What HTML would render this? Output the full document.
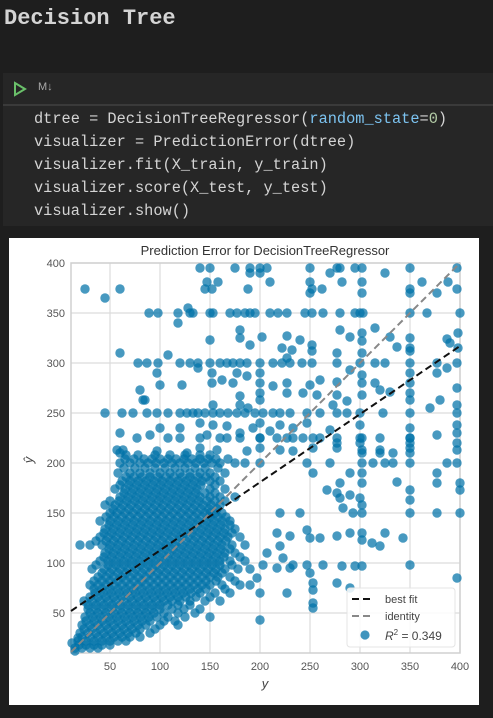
<!DOCTYPE html>
<html><head><meta charset="utf-8">
<style>
html,body{margin:0;padding:0;background:#1e1e1e;width:493px;height:718px;overflow:hidden;position:relative;font-family:"Liberation Sans",sans-serif}
.h{position:absolute;left:4px;top:6px;font:bold 22px "Liberation Mono",monospace;color:#d4d4d4}
.cell{position:absolute;left:3px;top:73px;width:490px;height:153px;background:#262626}
.bar{position:absolute;left:0;top:0;width:490px;height:31px;border-bottom:2px solid #3a3a3a}
.code{position:absolute;left:31px;top:35px;font:15.3px/23px "Liberation Mono",monospace;color:#d4d4d4;white-space:pre}
.chart{position:absolute;left:9px;top:238px;width:470px;height:467px;background:#fff}
</style></head><body>
<div class="h">Decision Tree</div>
<div class="cell">
 <div class="bar">
  <svg style="position:absolute;left:10px;top:8px" width="14" height="16"><polygon points="2,2 12,8 2,14" fill="none" stroke="#6ac06a" stroke-width="2"/></svg>
  <span style="position:absolute;left:35px;top:8px;font-size:11px;color:#aaa">M↓</span>
 </div>
 <div class="code">dtree = DecisionTreeRegressor(<span style="color:#7cc3f0">random_state</span>=<span style="color:#b5cea8">0</span>)
visualizer = PredictionError(dtree)
visualizer.fit(X_train, y_train)
visualizer.score(X_test, y_test)
visualizer.show()</div>
</div>
<div class="chart">
<svg id="sv" width="470" height="467"></svg>
</div>
<script>
const xTicks=[50,100,150,200,250,300,350,400];
const yTicks=[50,100,150,200,250,300,350,400];
const xDomain=[11,400];
const yDomain=[10,400];
const bestFit=[52,317];
const r2Label="0.349";
const outX=[140,150,175,190,200,207,250,277,280,295,302,350,397,190,200,270,325,147,158,210,250,282,302,362,388,25,60,145,152,188,252,262,350,397,45,250,302,350,377,
89,98,118,130,133,150,153,170,177,185,190,195,210,218,227,245,252,263,280,295,300,303,350,367,400,128,118,
180,150,180,190,202,227,240,252,280,290,302,302,315,330,337,350,350,387,398,222,232,252,227,277,302,350,398,60,108,390,
78,87,98,120,130,138,150,160,167,173,180,187,200,213,222,230,242,252,277,300,315,325,350,377,397,
97,100,122,138,152,152,162,173,177,187,200,200,213,227,200,80,85,250,260,277,290,302,302,315,320,350,350,350,377,387,397,
83,180,200,227,243,257,277,287,302,330,350,380,397,153,180,188,273,370,
45,62,73,87,97,108,120,127,133,138,145,153,160,168,177,185,195,203,213,220,230,247,260,277,287,300,323,350,397,
100,120,140,153,167,180,193,200,210,220,233,247,270,300,350,377,397,397,350,302,260,227,200,167,147,90,77,60,
108,120,140,160,180,200,217,233,243,253,277,300,320,350,
57,63,97,127,140,157,187,200,220,233,253,277,302,320,333,350,397,
277,300,350,397,60,302,320,350,
247,270,313,325,333,350,387,397,302,
253,290,302,302,377,377,337,400,280,267,277,290,300,350,350,400,280,
220,240,293,302,350,377,400,283,302,
247,250,260,277,290,302,302,312,325,343,320,217,230,220,
207,223,203,217,230,233,247,263,282,295,302,350,397,277,290,250,253,253,253,253,200,227,200,197,15,12,18];
const outY=[395,395,395,395,395,395,395,395,395,395,395,395,395,390,390,390,390,381,381,381,381,381,381,381,381,374,374,374,374,374,374,374,374,374,365,370,370,370,370,
350,350,350,350,350,350,350,350,350,350,350,350,350,350,350,350,350,350,350,350,350,350,350,350,350,355,340,
333,323,325,318,326,327,323,318,333,326,330,322,335,326,316,325,315,324,330,315,313,312,305,310,310,312,315,310,308,320,
300,300,300,300,300,300,300,300,300,300,300,300,300,300,300,300,300,300,300,300,300,300,300,300,300,
290,278,278,295,290,280,283,280,290,287,290,280,277,280,270,273,263,278,283,281,293,288,280,280,273,290,280,270,290,295,275,
263,267,263,270,270,268,268,262,268,271,263,263,258,258,258,255,258,255,
250,250,250,250,250,250,250,250,250,250,250,250,250,250,250,250,250,250,250,250,250,250,250,250,250,250,250,250,250,
235,235,240,238,237,230,235,240,232,238,235,240,233,238,235,228,238,230,225,225,225,225,225,225,228,228,225,230,
225,225,225,225,225,225,225,225,225,225,225,225,225,225,
213,213,212,210,215,213,212,215,213,212,215,215,213,213,210,215,213,
220,220,220,220,210,210,210,210,
200,200,200,200,200,200,200,200,200,
190,190,190,180,190,180,181,180,180,173,170,168,165,173,163,173,165,
150,150,150,150,150,150,150,155,158,
133,125,125,127,130,123,130,120,130,125,117,130,127,117,
110,105,98,95,95,98,98,98,97,97,97,98,85,80,75,90,80,73,60,55,43,70,70,85,12,20,25];
const blobY=[15,22,30,38,46,54,62,70,78,86,94,102,110,118,126,134,142,150,158,166,174,182,190,200,208];
const blobX=[
[15,22,30,38],
[18,26,34,42,50,58,66],
[20,28,36,44,52,60,68,76,90],
[22,30,38,46,54,62,70,78,86,100,118],
[25,33,41,49,57,65,73,81,89,97,108,125,150],
[28,36,44,52,60,68,76,84,92,100,112,124,140],
[24,32,40,48,56,64,72,80,88,96,104,112,120,130,145,160],
[35,43,51,59,67,75,83,91,99,107,115,123,131,140,155,170],
[30,38,46,54,62,70,78,86,94,102,110,118,126,134,142,150,162,180,190],
[38,46,54,62,70,78,86,94,102,110,118,126,134,142,150,158,170],
[32,44,52,60,68,76,84,92,100,108,116,124,132,140,148,156,165,178,190],
[40,48,56,64,72,80,88,96,104,112,120,128,136,144,152,160,170,185],
[45,53,61,69,77,85,93,101,109,117,125,133,141,149,157,165,175],
[20,30,42,50,58,66,74,82,90,98,106,114,122,130,138,146,154,162,172,185],
[40,48,56,64,72,80,88,96,104,112,120,128,136,144,152,160,168,180],
[45,53,61,69,77,85,93,101,109,117,125,133,141,149,157,165,175],
[40,50,58,66,74,82,90,98,106,114,122,130,138,146,154,162,170],
[50,57,65,73,81,89,97,105,113,121,129,137,145,150,155,162],
[45,55,63,71,79,87,95,103,111,119,127,135,143,151,160],
[60,68,76,84,92,100,108,116,124,132,140,150,160,175],
[55,65,73,81,89,97,105,113,121,129,137,150,165],
[62,70,78,86,94,102,110,118,126,134,142,150,160],
[58,70,80,90,100,110,120,130,140,150,165],
[60,70,80,88,96,104,112,120,128,136,144,152,160,175,185,200],
[66,78,95,110,125,140,150]];
const blobY2=[18,26,34,42,50,58,66,74,82,90,98,106,114,122,130,138,146,154,162,170,178,186,195,204];
const blobX2=[
[19,26,34,42,50],
[22,30,38,46,54,62,70,80],
[24,32,40,48,56,64,72,80,95],
[26,34,42,50,58,66,74,82,90,104,115],
[30,38,46,54,62,70,78,86,94,104,118,135],
[28,36,44,52,60,68,76,84,92,100,108,118,130],
[30,38,46,54,62,70,78,86,94,102,110,118,126,136,150],
[34,42,50,58,66,74,82,90,98,106,114,122,130,138,146,165],
[34,42,50,58,66,74,82,90,98,106,114,122,130,138,146,156,175],
[42,50,58,66,74,82,90,98,106,114,122,130,138,146,154,162],
[36,48,56,64,72,80,88,96,104,112,120,128,136,144,152,160,172],
[44,52,60,68,76,84,92,100,108,116,124,132,140,148,156,164,180],
[49,57,65,73,81,89,97,105,113,121,129,137,145,153,161,170],
[36,46,54,62,70,78,86,94,102,110,118,126,134,142,150,158,166],
[44,52,60,68,76,84,92,100,108,116,124,132,140,148,156,164,172],
[49,57,65,73,81,89,97,105,113,121,129,137,145,153,161,170],
[46,54,62,70,78,86,94,102,110,118,126,134,142,150,158,166],
[53,61,69,77,85,93,101,109,117,125,133,141,149,157],
[50,59,67,75,83,91,99,107,115,123,131,139,147,155,165],
[64,72,80,88,96,104,112,120,128,136,145,155],
[60,69,77,85,93,101,109,117,125,133,141,155],
[66,74,82,90,98,106,114,122,130,138,146,155],
[64,75,85,95,105,115,125,135,145,158],
[65,74,84,92,100,108,116,124,132,140,148,156,168]];

const NS="http://www.w3.org/2000/svg";
const sv=document.getElementById('sv');
const L=62,R=451,T=25,B=415;
const sx=v=>L+(v-xDomain[0])/(xDomain[1]-xDomain[0])*(R-L);
const sy=v=>B-(v-yDomain[0])/(yDomain[1]-yDomain[0])*(B-T);
function mk(tag,attrs,parent){const e=document.createElementNS(NS,tag);for(const k in attrs)e.setAttribute(k,attrs[k]);(parent||sv).appendChild(e);return e;}
const grid=mk('g',{});


xTicks.forEach(t=>{
 const l=mk('line',{x1:sx(t),x2:sx(t),y1:T,y2:B,stroke:'#dcdcdc','stroke-width':1.2},grid);
 
 
 const tx=mk('text',{x:sx(t),y:B+17,'text-anchor':'middle','font-size':11,fill:'#555'});
 tx.textContent=t;
 
 
});
yTicks.forEach(t=>{
 const l=mk('line',{x1:L,x2:R,y1:sy(t),y2:sy(t),stroke:'#dcdcdc','stroke-width':1.2},grid);
 
 
 const tx=mk('text',{x:L-6,y:sy(t)+4,'text-anchor':'end','font-size':11,fill:'#555'});
 tx.textContent=t;
 
 
});
const frame=mk('rect',{x:L,y:T,width:R-L,height:B-T,fill:'none',stroke:'#d0d0d0','stroke-width':1.5});


const pts=mk('g',{fill:'#0072a8','fill-opacity':0.72});


function dot(x,y){
 const c=mk('circle',{cx:sx(x),cy:sy(y),r:4.7},pts);
 
 
}
blobY.forEach((y,i)=>blobX[i].forEach(x=>dot(x,y)));
blobY2.forEach((y,i)=>blobX2[i].forEach(x=>dot(x,y)));
outX.forEach((x,i)=>dot(x,outY[i]));
const idl=mk('line',{x1:sx(xDomain[0]),y1:sy(xDomain[0]),x2:sx(400),y2:sy(400),stroke:'#888','stroke-width':2,'stroke-dasharray':'7,4'});


const bfl=mk('line',{x1:sx(xDomain[0]),y1:sy(bestFit[0]),x2:sx(400),y2:sy(bestFit[1]),stroke:'#111','stroke-width':2,'stroke-dasharray':'7,4'});


const lg=mk('g',{});


mk('rect',{x:338,y:350,width:108,height:59,rx:3,fill:'#fff','fill-opacity':0.85,stroke:'#e4e4e4'},lg);
mk('line',{x1:343,x2:365,y1:361,y2:361,stroke:'#111','stroke-width':2,'stroke-dasharray':'7,4'},lg);
mk('line',{x1:343,x2:365,y1:378,y2:378,stroke:'#888','stroke-width':2,'stroke-dasharray':'7,4'},lg);
mk('circle',{cx:356,cy:397,r:4.6,fill:'#0072a8','fill-opacity':0.75},lg);
const t1=mk('text',{x:376,y:365,'font-size':11,fill:'#444'},lg);t1.textContent='best fit';


const t2=mk('text',{x:376,y:382,'font-size':11,fill:'#444'},lg);t2.textContent='identity';


const t3=mk('text',{x:376,y:402,'font-size':12,fill:'#444'},lg);
t3.innerHTML='<tspan font-style="italic">R</tspan><tspan dy="-5" font-size="8">2</tspan><tspan dy="5"> = '+r2Label+'</tspan>';


const ti=mk('text',{x:256,y:17,'text-anchor':'middle','font-size':13,fill:'#333'});
ti.textContent='Prediction Error for DecisionTreeRegressor';


const xl=mk('text',{x:256,y:450,'text-anchor':'middle','font-size':13,'font-style':'italic',fill:'#444'});
xl.textContent='y';


const yl=mk('text',{x:0,y:0,'text-anchor':'middle','font-size':13,'font-style':'italic',fill:'#444',transform:'translate(24,222) rotate(-90)'});
yl.textContent='ŷ';


</script>
</body></html>
